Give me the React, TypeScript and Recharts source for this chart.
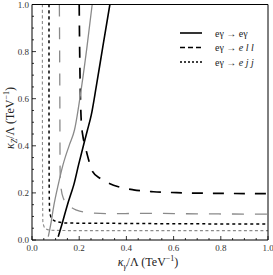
import React from 'react'
import { LineChart, Line, XAxis, YAxis } from 'recharts'

// curves: x = kappa_gamma/Lambda, y = kappa_Z/Lambda
const egSolidBlack = [
  { x: 0.111, y: 0.014 }, { x: 0.126, y: 0.064 }, { x: 0.15, y: 0.149 },
  { x: 0.164, y: 0.193 }, { x: 0.177, y: 0.234 }, { x: 0.197, y: 0.318 },
  { x: 0.222, y: 0.417 }, { x: 0.235, y: 0.467 }, { x: 0.251, y: 0.53 },
  { x: 0.272, y: 0.65 }, { x: 0.3, y: 0.82 }, { x: 0.33, y: 1.0 },
]
const egSolidGray = [
  { x: 0.069, y: 0.014 }, { x: 0.079, y: 0.064 }, { x: 0.093, y: 0.149 },
  { x: 0.111, y: 0.234 }, { x: 0.131, y: 0.318 }, { x: 0.158, y: 0.403 },
  { x: 0.18, y: 0.467 }, { x: 0.21, y: 0.65 }, { x: 0.233, y: 0.82 },
  { x: 0.255, y: 1.0 },
]
const ellDashBlack = [
  { x: 0.2, y: 1.0 }, { x: 0.202, y: 0.8 }, { x: 0.205, y: 0.62 },
  { x: 0.209, y: 0.5 }, { x: 0.215, y: 0.445 }, { x: 0.225, y: 0.4 },
  { x: 0.236, y: 0.355 }, { x: 0.257, y: 0.29 }, { x: 0.288, y: 0.262 },
  { x: 0.328, y: 0.24 }, { x: 0.366, y: 0.226 }, { x: 0.43, y: 0.213 },
  { x: 0.514, y: 0.205 }, { x: 0.613, y: 0.201 }, { x: 0.8, y: 0.198 },
  { x: 1.0, y: 0.197 },
]
const ellDashGray = [
  { x: 0.116, y: 1.0 }, { x: 0.118, y: 0.6 }, { x: 0.119, y: 0.3 },
  { x: 0.122, y: 0.23 }, { x: 0.133, y: 0.177 }, { x: 0.154, y: 0.149 },
  { x: 0.189, y: 0.127 }, { x: 0.239, y: 0.116 }, { x: 0.316, y: 0.112 },
  { x: 0.5, y: 0.113 }, { x: 0.7, y: 0.111 }, { x: 1.0, y: 0.11 },
]
const ejjDotBlack = [
  { x: 0.072, y: 1.0 }, { x: 0.072, y: 0.6 }, { x: 0.073, y: 0.2 },
  { x: 0.075, y: 0.12 }, { x: 0.083, y: 0.092 }, { x: 0.105, y: 0.078 },
  { x: 0.15, y: 0.072 }, { x: 0.3, y: 0.071 }, { x: 0.6, y: 0.069 },
  { x: 1.0, y: 0.068 },
]
const ejjDotGray = [
  { x: 0.044, y: 1.0 }, { x: 0.044, y: 0.6 }, { x: 0.045, y: 0.2 },
  { x: 0.046, y: 0.078 }, { x: 0.055, y: 0.05 }, { x: 0.075, y: 0.042 },
  { x: 0.15, y: 0.04 }, { x: 0.5, y: 0.04 }, { x: 1.0, y: 0.04 },
]

const tickValues = [
  0, 0.05, 0.1, 0.15, 0.2, 0.25, 0.3, 0.35, 0.4, 0.45, 0.5,
  0.55, 0.6, 0.65, 0.7, 0.75, 0.8, 0.85, 0.9, 0.95, 1.0,
]
const majorTicks = [0, 0.2, 0.4, 0.6, 0.8, 1.0]

const legendRows = [
  { dash: undefined, parts: ['eγ → eγ'] },
  { dash: '5 3', parts: ['eγ → ', 'e ', 'l l'] },
  { dash: '2 2', parts: ['eγ → ', 'e ', 'j j'] },
]

const FONT = '"Liberation Serif", "DejaVu Serif", serif'
const isMajor = (v: number) => majorTicks.some((m) => Math.abs(m - v) < 1e-6)

const BottomTick = ({ x, y, payload }: any) => {
  const major = isMajor(payload.value)
  return (
    <g>
      <line x1={x} y1={y} x2={x} y2={y - (major ? 4 : 2)} stroke="#000" strokeWidth={0.8} />
      {major && (
        <text x={x} y={y + 11} textAnchor="middle" fontSize={9} fontFamily={FONT} fill="#333">
          {payload.value.toFixed(1)}
        </text>
      )}
    </g>
  )
}
const TopTick = ({ x, y, payload }: any) => (
  <line x1={x} y1={y} x2={x} y2={y + (isMajor(payload.value) ? 4 : 2)} stroke="#000" strokeWidth={0.8} />
)
const LeftTick = ({ x, y, payload }: any) => {
  const major = isMajor(payload.value)
  return (
    <g>
      <line x1={x} y1={y} x2={x + (major ? 4 : 2)} y2={y} stroke="#000" strokeWidth={0.8} />
      {major && (
        <text x={x - 3} y={y + 3} textAnchor="end" fontSize={9} fontFamily={FONT} fill="#333">
          {payload.value.toFixed(1)}
        </text>
      )}
    </g>
  )
}
const RightTick = ({ x, y, payload }: any) => (
  <line x1={x} y1={y} x2={x - (isMajor(payload.value) ? 4 : 2)} y2={y} stroke="#000" strokeWidth={0.8} />
)

export default function App() {
  return (
    <div style={{ position: 'relative', width: 273, height: 275, background: '#fff' }}>
      <style>{'body{margin:0}'}</style>
      <LineChart width={273} height={275} margin={{ top: 3.5, right: 4, bottom: 34, left: 31 }}>
        <XAxis dataKey="x" type="number" domain={[0, 1]} ticks={tickValues} interval={0}
          height={1} tickSize={0} tickMargin={0} tick={<BottomTick />} stroke="#000" allowDataOverflow />
        <XAxis xAxisId="top" orientation="top" type="number" domain={[0, 1]} ticks={tickValues} interval={0}
          height={1} tickSize={0} tickMargin={0} tick={<TopTick />} stroke="#000" />
        <YAxis type="number" domain={[0, 1]} ticks={tickValues} interval={0}
          width={1} tickSize={0} tickMargin={0} tick={<LeftTick />} stroke="#000" allowDataOverflow />
        <YAxis yAxisId="right" orientation="right" type="number" domain={[0, 1]} ticks={tickValues} interval={0}
          width={1} tickSize={0} tickMargin={0} tick={<RightTick />} stroke="#000" />
        <Line data={ejjDotGray} dataKey="y" type="monotone" stroke="#8a8a8a" strokeWidth={1.1} strokeDasharray="3 2.5" dot={false} isAnimationActive={false} />
        <Line data={ejjDotBlack} dataKey="y" type="monotone" stroke="#000" strokeWidth={1.5} strokeDasharray="3 3" dot={false} isAnimationActive={false} />
        <Line data={ellDashGray} dataKey="y" type="monotone" stroke="#8a8a8a" strokeWidth={1.3} strokeDasharray="12 11" dot={false} isAnimationActive={false} />
        <Line data={ellDashBlack} dataKey="y" type="monotone" stroke="#000" strokeWidth={1.7} strokeDasharray="11 10" dot={false} isAnimationActive={false} />
        <Line data={egSolidGray} dataKey="y" type="monotone" stroke="#8a8a8a" strokeWidth={1.3} dot={false} isAnimationActive={false} />
        <Line data={egSolidBlack} dataKey="y" type="monotone" stroke="#000" strokeWidth={1.6} dot={false} isAnimationActive={false} />
      </LineChart>
      <svg width={273} height={275} style={{ position: 'absolute', left: 0, top: 0, pointerEvents: 'none' }}>
        {legendRows.map((r, i) => (
          <g key={i}>
            <line x1={180} x2={202} y1={33 + i * 14.5} y2={33 + i * 14.5} stroke="#000" strokeWidth={1.6} strokeDasharray={r.dash} />
            <text x={215} y={36.5 + i * 14.5} fontSize={10} fontFamily={FONT} fill="#222">
              {r.parts[0]}
              {r.parts[1] && <tspan fontStyle="italic">{r.parts[1]}</tspan>}
              {r.parts[2] && <tspan fontStyle="italic">{r.parts[2]}</tspan>}
            </text>
          </g>
        ))}
        <text x={148} y={266} textAnchor="middle" fontSize={12} fontFamily={FONT} fill="#222">
          <tspan fontStyle="italic">κ</tspan>
          <tspan fontStyle="italic" fontSize={8} dy={3}>γ</tspan>
          <tspan dy={-3}>/Λ (TeV</tspan>
          <tspan fontSize={8} dy={-5}>−1</tspan>
          <tspan dy={5}>)</tspan>
        </text>
        <text x={0} y={0} transform="translate(14 118) rotate(-90)" textAnchor="middle" fontSize={12} fontFamily={FONT} fill="#222">
          <tspan fontStyle="italic">κ</tspan>
          <tspan fontStyle="italic" fontSize={8} dy={3}>Z</tspan>
          <tspan dy={-3}>/Λ (TeV</tspan>
          <tspan fontSize={8} dy={-5}>−1</tspan>
          <tspan dy={5}>)</tspan>
        </text>
      </svg>
    </div>
  )
}
